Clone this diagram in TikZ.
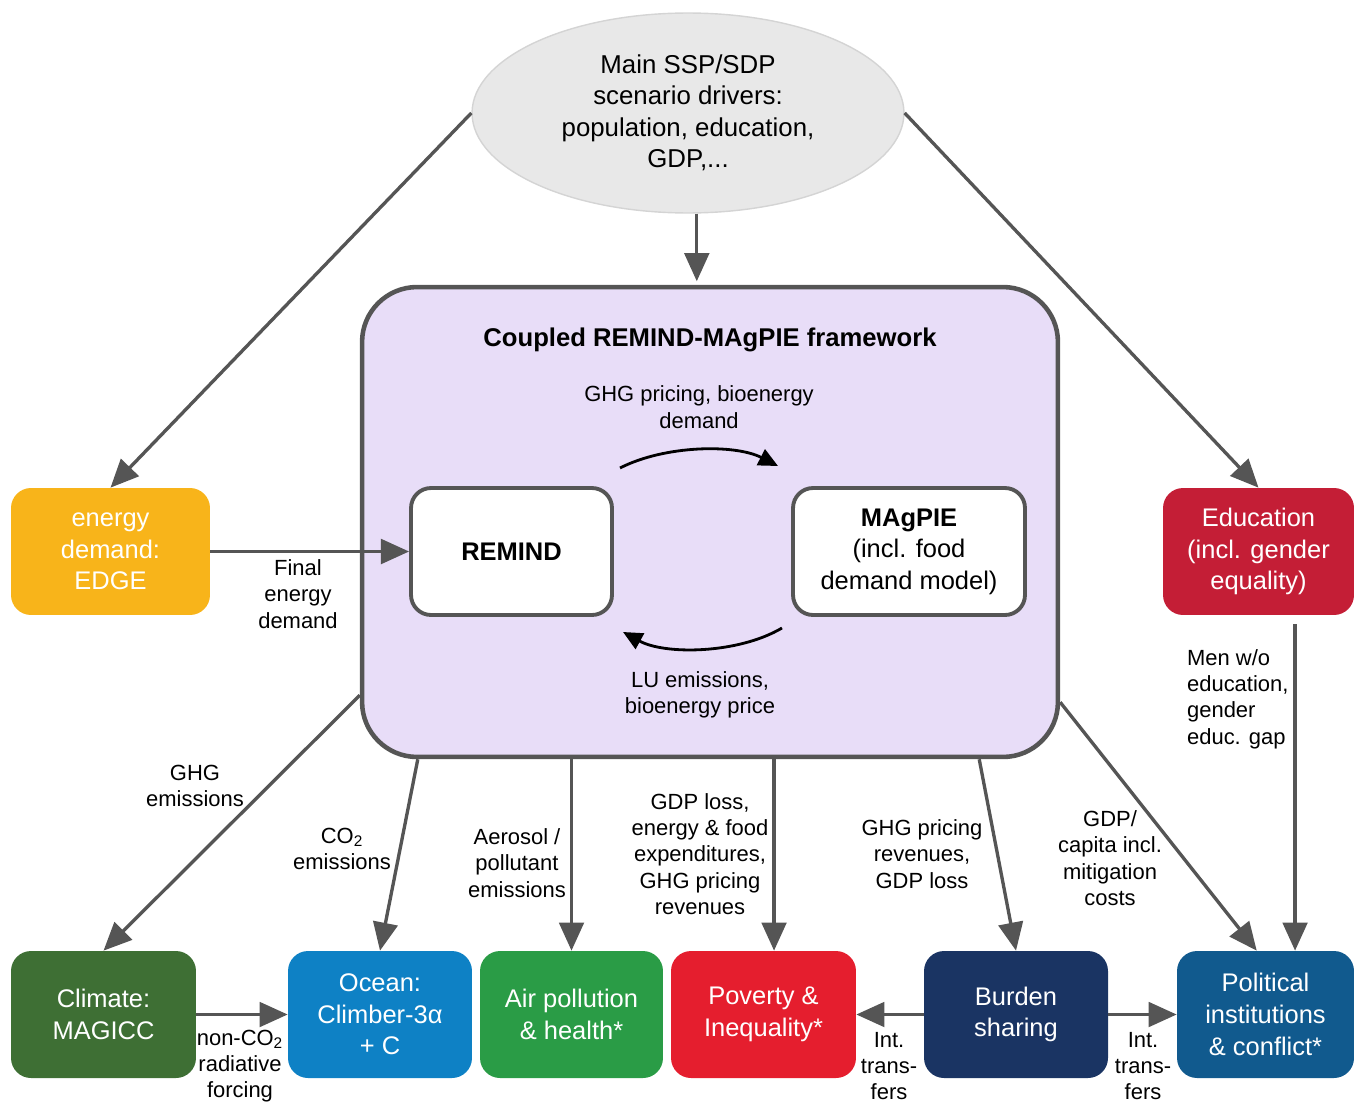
\documentclass[tikz,border=0pt]{standalone}
\usepackage{fontspec}
\setmainfont{Liberation Sans}
\usepackage{tikz}
\usetikzlibrary{positioning, calc, shapes, arrows.meta}

\definecolor{linegray}{RGB}{85,85,85}
\definecolor{framefill}{RGB}{232,221,248}
\definecolor{drivergray}{RGB}{232,232,232}
\definecolor{driverline}{RGB}{212,212,212}
\definecolor{edgeorange}{RGB}{248,180,26}
\definecolor{edured}{RGB}{196,30,54}
\definecolor{climgreen}{RGB}{62,111,52}
\definecolor{oceanblue}{RGB}{14,129,197}
\definecolor{airgreen}{RGB}{42,156,70}
\definecolor{povred}{RGB}{229,30,46}
\definecolor{burdennavy}{RGB}{26,52,99}
\definecolor{polblue}{RGB}{17,90,142}

\begin{document}
\begin{tikzpicture}[x=0.02cm, y=-0.02cm]
\tikzstyle{model}=[draw=linegray, line width=2.2pt, fill=white, rounded corners=0.4cm,
minimum height=2.54cm, font=\fontsize{14.5}{18}\selectfont, align=center]
\tikzstyle{sector}=[rounded corners=0.4cm, minimum height=2.54cm, text=white,
font=\fontsize{14.5}{18}\selectfont, align=center, inner sep=2pt]
\tikzstyle{lbl}=[font=\fontsize{12.5}{15}\selectfont, align=center, inner sep=1pt]
\tikzstyle{flow}=[draw=linegray, line width=1.9pt, -{Triangle[length=16pt, width=14pt]}]
\tikzstyle{loop}=[draw=black, line width=1.6pt, -{Triangle[length=11pt, width=10pt]}]

\useasboundingbox (0,0) rectangle (1354,1105);

% drivers
\node (drivers) [ellipse, draw=driverline, thick, fill=drivergray, minimum width=8.64cm,
minimum height=4cm, align=center, font=\fontsize{14.7}{17.9}\selectfont] at (688,113)
{Main SSP/SDP\\scenario drivers:\\population, education,\\GDP,...};

% coupled framework
\node (frame) [draw=linegray, line width=2.6pt, fill=framefill, rounded corners=1.1cm,
minimum width=13.92cm, minimum height=9.4cm] at (710,522) {};
\node (title) [font=\fontsize{14.6}{16}\selectfont\bfseries] at (710,340) {Coupled REMIND-MAgPIE framework};
\node (remind) [model, minimum width=4.02cm, font=\fontsize{14.5}{18}\selectfont\bfseries] at (511.5,551.5) {REMIND};
\node (magpie) [model, minimum width=4.64cm] at (909,551.5) {\textbf{MAgPIE}\\(incl. food\\demand model)};

\coordinate (top1) at (620,468);
\coordinate (top2) at (778,466);
\coordinate (bot1) at (782,628);
\coordinate (bot2) at (623,632);
\draw[loop] (top1) .. controls (665,445) and (735,444) .. (top2);
\draw[loop] (bot1) .. controls (738,654) and (665,655) .. (bot2);
\node (ltop) [lbl] at (699,407) {GHG pricing, bioenergy\\demand};
\node (lbot) [lbl] at (700,695) {LU emissions,\\bioenergy price};

% side boxes
\node (edge) [sector, fill=edgeorange, minimum width=3.98cm] at (110.5,551.5) {energy\\demand:\\EDGE};
\node (edu) [sector, fill=edured, minimum width=3.82cm] at (1258.5,551.5) {Education\\(incl. gender\\equality)};

% bottom boxes
\node (climate) [sector, fill=climgreen, minimum width=3.7cm] at (103.5,1014.5) {Climate:\\MAGICC};
\node (ocean) [sector, fill=oceanblue, minimum width=3.68cm] at (380,1014.5) {Ocean:\\Climber-3α\\+ C};
\node (air) [sector, fill=airgreen, minimum width=3.66cm] at (571.5,1014.5) {Air pollution\\\& health*};
\node (poverty) [sector, fill=povred, minimum width=3.7cm] at (763.5,1014.5) {Poverty \&\\Inequality*};
\node (burden) [sector, fill=burdennavy, minimum width=3.68cm] at (1016,1014.5) {Burden\\sharing};
\node (political) [sector, fill=polblue, minimum width=3.54cm] at (1265.5,1014.5) {Political\\institutions\\\& conflict*};

% connections
\draw[flow] (drivers.west) -- (edge.north);
\draw[flow] ([xshift=5pt]drivers.south) -- ([xshift=5pt, yshift=2pt]drivers.south |- frame.north);
\draw[flow] (drivers.east) -- (edu.north);
\draw[flow] (edge.east) -- (remind.west);
\draw[flow] ($(frame.south west)+(0,-64)$) -- (climate.north);
\draw[flow] ($(frame.south west)+(58,0)$) -- (ocean.north);
\draw[flow] (air.north |- frame.south) -- (air.north);
\draw[flow] ([xshift=6pt]poverty.north |- frame.south) -- ([xshift=6pt]poverty.north);
\draw[flow] ($(frame.south east)+(-81,0)$) -- (burden.north);
\draw[flow] ($(frame.south east)+(0,-57)$) -- ([xshift=-5pt]political.north);
\draw[flow] ([xshift=20.8pt, yshift=-5pt]edu.south) -- ([xshift=20.8pt]edu.south |- political.north);
\draw[flow] (climate.east) -- (ocean.west);
\draw[flow] (burden.west) -- (poverty.east);
\draw[flow] (burden.east) -- (political.west);

% labels
\node (lfinal) [lbl] at (298,594) {Final\\energy\\demand};
\node (lghg) [lbl] at (195,786) {GHG\\emissions};
\node (lco2) [lbl] at (342,849) {CO\textsubscript{2}\\emissions};
\node (laero) [lbl] at (517,863) {Aerosol /\\pollutant\\emissions};
\node (lgdp) [lbl] at (700,854) {GDP loss,\\energy \& food\\expenditures,\\GHG pricing\\revenues};
\node (lrev) [lbl] at (922,854) {GHG pricing\\revenues,\\GDP loss};
\node (lcap) [lbl] at (1110,858) {GDP/\\capita incl.\\mitigation\\costs};
\node (lmen) [lbl, align=left, anchor=west] at (1185,699) {Men w/o\\education,\\gender\\educ. gap};
\node (lforc) [lbl] at (240,1066) {non-CO\textsubscript{2}\\radiative\\forcing};
\node (ltr1) [lbl] at (889,1066) {Int.\\trans-\\fers};
\node (ltr2) [lbl] at (1143,1066) {Int.\\trans-\\fers};

\end{tikzpicture}
\end{document}
